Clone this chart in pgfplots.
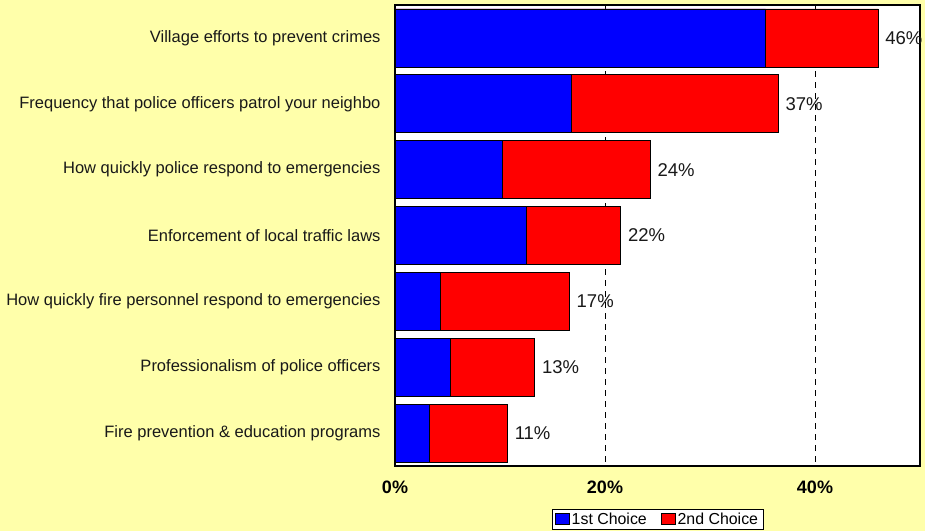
\documentclass[border=0pt]{standalone}
\usepackage{pgfplots}
\pgfplotsset{compat=1.18}
\usepackage{pgfplotstable}
\usepackage{fontspec}
\setmainfont{Liberation Sans}
\definecolor{bg}{RGB}{255,255,170}
\definecolor{barblue}{RGB}{0,0,255}
\definecolor{barred}{RGB}{255,0,0}
\definecolor{txt}{RGB}{25,25,25}
% 1st choice share and total (1st + 2nd choice) per item
\pgfplotstableread{
y first total lbl
0 35.3 46.0 46\%
1 16.8 36.5 37\%
2 10.2 24.3 24\%
3 12.5 21.5 22\%
4 4.3 16.6 17\%
5 5.3 13.3 13\%
6 3.3 10.7 11\%
}\data
\begin{document}
\begin{tikzpicture}[x=1pt,y=1pt]
\fill[bg] (0,0) rectangle (925,531);
\useasboundingbox (0,0) rectangle (925,531);
\begin{axis}[
  at={(395pt,65pt)}, anchor=south west,
  scale only axis, width=525pt, height=461pt,
  xbar, bar width=0.88, bar shift=0pt,
  xmin=0, xmax=50, ymin=-0.5, ymax=6.5, y dir=reverse,
  axis background/.style={fill=white},
  axis line style={line width=2.5pt, black},
  ytick={0,...,6},
  yticklabels={Village efforts to prevent crimes,
    Frequency that police officers patrol your neighbo,
    How quickly police respond to emergencies,
    Enforcement of local traffic laws,
    How quickly fire personnel respond to emergencies,
    Professionalism of police officers,
    Fire prevention \& education programs},
  yticklabel style={font=\fontsize{16.5}{18}\selectfont, text=txt, xshift=-11pt},
  xtick={0,20,40},
  xticklabels={0\%,20\%,40\%},
  xticklabel style={font=\fontsize{18}{20}\selectfont\bfseries, text=black, yshift=-11pt},
  major tick length=0pt,
  xmajorgrids,
  major grid style={black, line width=0.8pt, dash pattern=on 6pt off 5pt},
  legend style={at={(0.5,-0.115)}, anchor=center, draw=black, line width=0.8pt,
    font=\fontsize{15.9}{17}\selectfont, inner xsep=3pt, inner ysep=1.5pt,
    /tikz/every even column/.append style={column sep=12pt}},
  legend columns=2,
  legend image code/.code={\draw[#1, draw=black, line width=0.8pt] (0pt,-5pt) rectangle (14pt,6pt);},
]
\addlegendimage{fill=barblue}
\addlegendimage{fill=barred}
\addplot[fill=barred, draw=black, line width=0.8pt, forget plot,
  point meta=explicit symbolic,
  nodes near coords,
  nodes near coords style={font=\fontsize{18.5}{20}\selectfont, text=txt, anchor=west, inner sep=0pt, xshift=7pt}]
  table[x=total, y=y, meta=lbl] {\data};
\addplot[fill=barblue, draw=black, line width=0.8pt, forget plot] table[x=first, y=y] {\data};
\legend{1st Choice, 2nd Choice}
\end{axis}
\end{tikzpicture}
\end{document}
